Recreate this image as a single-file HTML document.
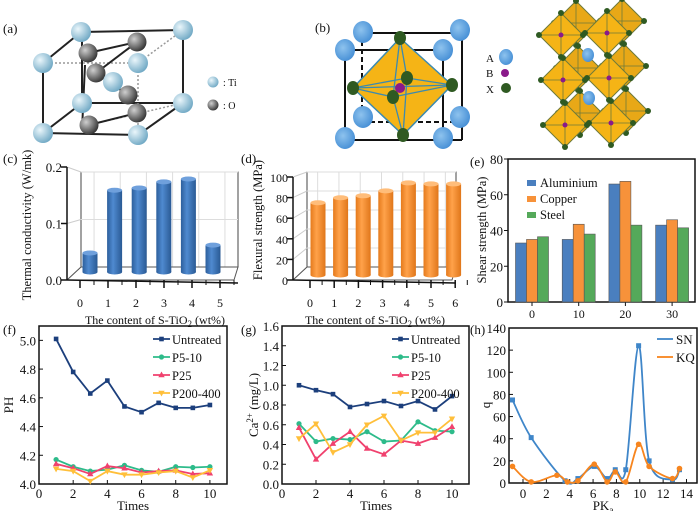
<!DOCTYPE html>
<html><head><meta charset="utf-8">
<style>
html,body{margin:0;padding:0;background:#fff}
svg{display:block;font-family:"Liberation Serif",serif}
</style></head>
<body>
<svg id="fig" width="700" height="511" viewBox="0 0 700 511" xmlns="http://www.w3.org/2000/svg">
<defs>
<radialGradient id="ti" cx="35%" cy="35%" r="70%"><stop offset="0" stop-color="#eaf6fb"/><stop offset="1" stop-color="#6fa8c4"/></radialGradient>
<radialGradient id="ox" cx="35%" cy="35%" r="70%"><stop offset="0" stop-color="#cfcfcf"/><stop offset="1" stop-color="#333"/></radialGradient>
<radialGradient id="ba" cx="40%" cy="40%" r="70%"><stop offset="0" stop-color="#8ec3ee"/><stop offset="1" stop-color="#3f8ad3"/></radialGradient>
<linearGradient id="cylB" x1="0" x2="1"><stop offset="0" stop-color="#2d5f9c"/><stop offset="0.4" stop-color="#4f8ad0"/><stop offset="1" stop-color="#2a5a94"/></linearGradient>
<linearGradient id="cylO" x1="0" x2="1"><stop offset="0" stop-color="#e57a1c"/><stop offset="0.4" stop-color="#ffa24a"/><stop offset="1" stop-color="#e0761a"/></linearGradient>
</defs>
<g id="pa"></g>
<g id="pb"></g>
<g id="pc"></g>
<g id="pd"></g>
<g id="pe"></g>
<g id="pf"></g>
<g id="pg"></g>
<g id="ph"></g>
</svg>
<script>
// ---- chart data ----
const cCats = [0,1,2,3,4,5];
const cVals = [0.034,0.146,0.150,0.161,0.166,0.048];
const cTicks = [0.0,0.1,0.2];
const dCats = [0,1,2,3,4,5,6];
const dVals = [73,78,80,85,93,92,92];
const dTicks = [0,20,40,60,80,100];
const eCats = [0,10,20,30];
const eSeriesNames = ["Aluminium","Copper","Steel"];
const eAlu = [33,35,66,43];
const eCop = [35,43.5,67.5,46];
const eSte = [36.5,38,43,41.5];
const eTicks = [0,20,40,60,80];
const fTimes = [1,2,3,4,5,6,7,8,9,10];
const fUntreated = [5.01,4.78,4.63,4.72,4.54,4.50,4.565,4.53,4.53,4.55];
const fP510 = [4.17,4.12,4.09,4.10,4.13,4.095,4.085,4.12,4.115,4.12];
const fP25 = [4.14,4.11,4.07,4.125,4.11,4.08,4.09,4.095,4.07,4.075];
const fP200 = [4.105,4.09,4.02,4.09,4.065,4.065,4.08,4.09,4.045,4.095];
const fYTicks = [4.0,4.2,4.4,4.6,4.8,5.0];
const gUntreated = [1.0,0.95,0.91,0.78,0.81,0.84,0.79,0.84,0.755,0.89];
const gP510 = [0.61,0.43,0.46,0.45,0.53,0.43,0.44,0.63,0.54,0.53];
const gP25 = [0.57,0.25,0.41,0.53,0.36,0.30,0.44,0.41,0.47,0.58];
const gP200 = [0.46,0.61,0.32,0.40,0.60,0.69,0.44,0.52,0.52,0.66];
const gYTicks = [0.0,0.2,0.4,0.6,0.8,1.0,1.2,1.4,1.6];
const xTicks10 = [0,2,4,6,8,10];
const hSNx = [-0.9,0.7,3.6,4.7,6.1,7.2,7.9,8.8,9.9,10.8,12.8,13.4];
const hSNy = [75,41,2,4,15,4,12,12,124,20,3,12];
const hKQx = [-0.9,0.7,2.9,3.8,4.7,6.1,7.2,7.9,8.8,9.9,10.8,12.8,13.4];
const hKQy = [15,1,7,1,2,17,1,10,1,35,15,4,13];
const hXTicks = [0,2,4,6,8,10,12,14];
const hYTicks = [0,20,40,60,80,100,120,140];

const NS="http://www.w3.org/2000/svg";
function mk(parent,tag,attrs,text){const e=document.createElementNS(NS,tag);for(const k in attrs)e.setAttribute(k,attrs[k]);if(text!==undefined)e.textContent=text;parent.appendChild(e);return e;}
function txt(p,x,y,s,size,anchor,name){const t=mk(p,'text',{x:x,y:y,'font-size':size||12,'text-anchor':anchor||'middle',fill:'#111'},s);

return t;}

// ---- panel a ----
(function(){
const g=document.getElementById('pa');
txt(g,3,33,'(a)',13,'start','panel-a-label');
const L=(a,b,c,d,dash)=>mk(g,'line',{x1:a,y1:b,x2:c,y2:d,stroke:dash?'#999':'#222','stroke-width':dash?1.5:2,'stroke-dasharray':dash?'2 2':''});
L(81,32,183,30);L(43,63,81,32);L(183,30,183,103);L(43,63,43,133);L(43,133,138,135);L(138,135,183,103);L(82,32,82,103);L(82,103,183,103);L(43,133,82,103);
L(43,63,138,63,1);L(138,63,183,30,1);L(138,63,138,135,1);L(89,125,183,103,1);
L(88,53,137,42);L(96,73,137,42);L(96,73,128,95);L(89,125,137,113);L(85,65,82,130);
const ox=[[137,42],[88,53],[96,73],[128,95],[137,113],[89,125]];
ox.forEach(p=>mk(g,'circle',{cx:p[0],cy:p[1],r:9.5,fill:'url(#ox)'}));
const ti=[[81,32],[183,30],[43,63],[138,63],[113,82],[82,103],[183,103],[43,133],[138,135]];
ti.forEach(p=>mk(g,'circle',{cx:p[0],cy:p[1],r:10,fill:'url(#ti)'}));
mk(g,'circle',{cx:213,cy:82,r:5.5,fill:'url(#ti)'});mk(g,'circle',{cx:213,cy:105,r:5.5,fill:'url(#ox)'});
txt(g,223,86,': Ti',10,'start','legend-ti');txt(g,223,109,': O',10,'start','legend-o');
})();

// ---- panel b ----
(function(){
const g=document.getElementById('pb');
txt(g,315,32,'(b)',13,'start','panel-b-label');
const L=(a,b,c,d,dash)=>mk(g,'line',{x1:a,y1:b,x2:c,y2:d,stroke:'#111','stroke-width':2,'stroke-dasharray':dash?'5 3':''});
L(363,33,462,33);L(462,33,462,140);L(345,140,462,140);L(345,50,345,140);L(345,50,443,50);L(443,50,443,140);
L(362,33,362,122,1);L(362,122,455,122,1);
mk(g,'polygon',{points:'400,38 452,85 403,135 353,88',fill:'#f5b416',stroke:'#3c8ab0','stroke-width':1.5});
[[353,88,452,85],[393,97,452,85],[393,97,353,88],[407,78,400,38],[407,78,403,135],[393,97,400,38],[393,97,403,135],[407,78,353,88],[407,78,452,85]].forEach(l=>mk(g,'line',{x1:l[0],y1:l[1],x2:l[2],y2:l[3],stroke:'#3c8ab0','stroke-width':1.3}));
[[400,38],[452,85],[403,135],[353,88],[393,97],[407,78]].forEach(p=>mk(g,'ellipse',{cx:p[0],cy:p[1],rx:6,ry:7,fill:'#2f5a22'}));
mk(g,'circle',{cx:400,cy:88,r:5,fill:'#8a1a8a'});
[[363,32],[460,30],[345,50],[443,50],[363,117],[460,117],[345,138],[443,138]].forEach(p=>mk(g,'ellipse',{cx:p[0],cy:p[1],rx:10,ry:11,fill:'url(#ba)'}));
txt(g,486,62,'A',11,'start','legend-a');txt(g,486,77,'B',11,'start','legend-b');txt(g,486,93,'X',11,'start','legend-x');
mk(g,'ellipse',{cx:506,cy:57,rx:7,ry:8,fill:'url(#ba)'});mk(g,'circle',{cx:505,cy:73,r:4,fill:'#8a1a8a'});mk(g,'circle',{cx:506,cy:88,r:5,fill:'#2f5a22'});
const cen=[[576,23],[622,21],[578,68],[624,66],[580,113],[626,111],[561,35],[607,33],[563,80],[609,78],[565,125],[611,123]];
cen.forEach((c,i)=>{const s=22,x=c[0],y=c[1];
mk(g,'polygon',{points:`${x},${y-s} ${x+s},${y} ${x},${y+s} ${x-s},${y}`,fill:i<6?'#e8a817':'#f5b416',stroke:'#6e7a3a','stroke-width':1});
mk(g,'line',{x1:x-s,y1:y,x2:x+s,y2:y,stroke:'#6e7a3a','stroke-width':0.8});mk(g,'line',{x1:x,y1:y-s,x2:x,y2:y+s,stroke:'#6e7a3a','stroke-width':0.8});
[[x,y-s],[x+s,y],[x,y+s],[x-s,y]].forEach(p=>mk(g,'circle',{cx:p[0],cy:p[1],r:3,fill:'#2f5a22'}));
if(i>=6)mk(g,'circle',{cx:x,cy:y,r:2.5,fill:'#8a1a8a'});});
mk(g,'ellipse',{cx:588,cy:55,rx:6,ry:7,fill:'url(#ba)'});mk(g,'ellipse',{cx:589,cy:98,rx:6,ry:7,fill:'url(#ba)'});
})();

// ---- 3D bar helper ----
function bar3d(p,o,cats,vals,ticks,grad,topCol,name){
const {ax,y0,y1,vmax,wallL,wallR,wallT,wallB,base,bx0,bdx,bh,tx0,tdx}=o;
const ys=v=>y0-(v/vmax)*(y0-y1);
const bs=v=>base-v*bh;
mk(p,'rect',{x:wallL,y:wallT,width:wallR-wallL,height:wallB-wallT,fill:'#fff',stroke:'#444','stroke-width':1});
ticks.forEach(t=>{const yy=wallB-(t/vmax)*(wallB-wallT);mk(p,'line',{x1:ax,y1:ys(t),x2:wallL,y2:yy,stroke:'#ccc'});mk(p,'line',{x1:wallL,y1:yy,x2:wallR,y2:yy,stroke:'#ddd'});});
cats.forEach((c,i)=>{const xx=wallL+(i+0.5)*(wallR-wallL)/cats.length;mk(p,'line',{x1:xx,y1:wallT,x2:xx,y2:wallB,stroke:'#ddd'});});
mk(p,'polygon',{points:`${ax},${y0} ${wallR-4},${y0} ${wallR},${wallB} ${wallL},${wallB}`,fill:'none',stroke:'#555'});
mk(p,'line',{x1:ax,y1:y0,x2:ax,y2:y1,stroke:'#111','stroke-width':1.5});
ticks.forEach(t=>{mk(p,'line',{x1:ax-6,y1:ys(t),x2:ax,y2:ys(t),stroke:'#111','stroke-width':1.5});});
mk(p,'line',{x1:ax,y1:y0,x2:wallR,y2:y0+3,stroke:'#111','stroke-width':1.5});
cats.forEach((c,i)=>{const tx=tx0+i*tdx;mk(p,'line',{x1:tx,y1:y0,x2:tx,y2:y0+8,stroke:'#111','stroke-width':1.5});mk(p,'line',{x1:tx+tdx/2,y1:y0,x2:tx+tdx/2,y2:y0+5,stroke:'#111'});});
vals.forEach((v,i)=>{const cx=bx0+i*bdx,w=15,top=bs(v);
const r=mk(p,'rect',{x:cx-w/2,y:top,width:w,height:base-top,fill:grad});


mk(p,'ellipse',{cx:cx,cy:base,rx:w/2,ry:2.5,fill:grad});
mk(p,'ellipse',{cx:cx,cy:top,rx:w/2,ry:2.5,fill:topCol});});
return ys;}

// ---- panel c ----
(function(){const p=document.getElementById('pc');
const o={ax:67,y0:280,y1:167,vmax:0.2,wallL:81,wallR:238,wallT:172,wallB:267,base:272,bx0:90,bdx:24.6,bh:(272-160)/0.2,tx0:80,tdx:28};
const ys=bar3d(p,o,cCats,cVals,cTicks,'url(#cylB)','#6fa0dc','thermal');
cTicks.forEach(t=>txt(p,62,ys(t)+5,t.toFixed(1),13,'end','y-tick'));
cCats.forEach((c,i)=>txt(p,o.tx0+i*o.tdx,307,String(c),12,'middle','x-tick'));
txt(p,3,163,'(c)',13,'start','panel-c-label');
const yl=txt(p,0,0,'Thermal conductivity (W/mk)',12.5,'middle','y-axis-title');yl.setAttribute('transform','translate(31,225) rotate(-90)');
const xl=txt(p,155,324,'',12,'middle','x-axis-title');xl.innerHTML='The content of S-TiO<tspan dy="3" font-size="9">2</tspan><tspan dy="-3"> (wt%)</tspan>';
})();

// ---- panel d ----
(function(){const p=document.getElementById('pd');
const o={ax:293,y0:280,y1:177,vmax:100,wallL:307,wallR:456,wallT:172,wallB:267,base:275,bx0:318,bdx:22.6,bh:0.99,tx0:310,tdx:24.2};
const ys=bar3d(p,o,dCats,dVals,dTicks,'url(#cylO)','#ffbd7a','flexural');
dTicks.forEach(t=>txt(p,288,ys(t)+5,String(t),12,'end','y-tick'));
dCats.forEach((c,i)=>txt(p,o.tx0+i*o.tdx,307,String(c),12,'middle','x-tick'));
txt(p,241,163,'(d)',13,'start','panel-d-label');
const yl=txt(p,0,0,'Flexural strength (MPa)',12.5,'middle','y-axis-title');yl.setAttribute('transform','translate(262,220) rotate(-90)');
const xl=txt(p,375,324,'',12,'middle','x-axis-title');xl.innerHTML='The content of S-TiO<tspan dy="3" font-size="9">2</tspan><tspan dy="-3"> (wt%)</tspan>';
})();

// ---- panel e ----
(function(){const p=document.getElementById('pe');
const L=508,R=695,T=159,B=302;
const ys=v=>B-v/80*(B-T);
const xs=i=>532+i*46.7;
mk(p,'rect',{x:L,y:T,width:R-L,height:B-T,fill:'#fff',stroke:'#111','stroke-width':1.5});
eTicks.forEach(t=>{mk(p,'line',{x1:L-4,y1:ys(t),x2:L,y2:ys(t),stroke:'#111'});txt(p,L-5,ys(t)+5,String(t),13,'end','y-tick');});
eCats.forEach((c,i)=>{mk(p,'line',{x1:xs(i),y1:B,x2:xs(i),y2:B+4,stroke:'#111'});txt(p,xs(i),318,String(c),12,'middle','x-tick');});
const cols=['#4a7fbf','#f7923a','#55a95a'];
[eAlu,eCop,eSte].forEach((ser,k)=>ser.forEach((v,i)=>{const r=mk(p,'rect',{x:xs(i)-16.5+k*11,y:ys(v),width:11,height:B-ys(v),fill:cols[k],stroke:'#555','stroke-width':0.6});

}));
eSeriesNames.forEach((n,k)=>{const y=185+k*16;mk(p,'rect',{x:527,y:y-5,width:9,height:6,fill:cols[k]});txt(p,540,y+2,n,12.5,'start','legend-entry');});
txt(p,470,166,'(e)',13,'start','panel-e-label');
const yl=txt(p,0,0,'Shear strength (MPa)',12.5,'middle','y-axis-title');yl.setAttribute('transform','translate(486,230) rotate(-90)');
})();

// ---- line helper ----
function lineChart(p,o){
const {L,R,T,B,xmin,xmax,ymin,ymax}=o;
const xs=v=>L+(v-xmin)/(xmax-xmin)*(R-L);
const ys=v=>B-(v-ymin)/(ymax-ymin)*(B-T);
mk(p,'rect',{x:L,y:T,width:R-L,height:B-T,fill:'none',stroke:'#111','stroke-width':1.5});
return {xs,ys};}
function marker(p,type,x,y,c){
if(type==='s')mk(p,'rect',{x:x-2.3,y:y-2.3,width:4.6,height:4.6,fill:c});
else if(type==='c')mk(p,'circle',{cx:x,cy:y,r:2.6,fill:c});
else if(type==='t')mk(p,'polygon',{points:`${x},${y-3.5} ${x+3.2},${y+2.3} ${x-3.2},${y+2.3}`,fill:c});
else mk(p,'polygon',{points:`${x},${y+3.5} ${x+3.2},${y-2.3} ${x-3.2},${y-2.3}`,fill:c});}
const fCols=['#1c3f7c','#2dbb8a','#f0416e','#ffbf3a'];
const fTypes=['s','c','t','v'];
const fNames=['Untreated','P5-10','P25','P200-400'];
function legend(p,x,y0){fNames.forEach((n,k)=>{const y=y0+k*18;mk(p,'line',{x1:x,y1:y,x2:x+17,y2:y,stroke:fCols[k],'stroke-width':1.8});marker(p,fTypes[k],x+8.5,y,fCols[k]);txt(p,x+19,y+5,n,12.5,'start','legend-entry');});}
function series(p,sc,xv,yv,k,name){
const pts=xv.map((x,i)=>sc.xs(x)+','+sc.ys(yv[i])).join(' ');
const pl=mk(p,'polyline',{points:pts,fill:'none',stroke:fCols[k],'stroke-width':1.8});


xv.forEach((x,i)=>marker(p,fTypes[k],sc.xs(x),sc.ys(yv[i]),fCols[k]));}

// ---- panel f ----
(function(){const p=document.getElementById('pf');
const o={L:39,R:227,T:326,B:484,xmin:0,xmax:11,ymin:4.0,ymax:5.1};
const sc=lineChart(p,o);
fYTicks.forEach(t=>{mk(p,'line',{x1:o.L,y1:sc.ys(t),x2:o.L+4,y2:sc.ys(t),stroke:'#111'});txt(p,o.L-3,sc.ys(t)+5,t.toFixed(1),13,'end','y-tick');});
xTicks10.forEach(t=>{mk(p,'line',{x1:sc.xs(t),y1:o.B,x2:sc.xs(t),y2:o.B-4,stroke:'#111'});txt(p,sc.xs(t),498,String(t),13,'middle','x-tick');});
[fUntreated,fP510,fP25,fP200].forEach((s,k)=>series(p,sc,fTimes,s,k,'line-'+fNames[k].toLowerCase()));
legend(p,153,339);
txt(p,3,334,'(f)',13,'start','panel-f-label');
const yl=txt(p,0,0,'PH',13,'middle','y-axis-title');yl.setAttribute('transform','translate(13,405) rotate(-90)');
txt(p,133,510,'Times',13,'middle','x-axis-title');
})();

// ---- panel g ----
(function(){const p=document.getElementById('pg');
const o={L:282,R:469,T:326,B:484,xmin:0,xmax:11,ymin:0,ymax:1.6};
const sc=lineChart(p,o);
gYTicks.forEach(t=>{mk(p,'line',{x1:o.L,y1:sc.ys(t),x2:o.L+4,y2:sc.ys(t),stroke:'#111'});txt(p,o.L-3,sc.ys(t)+5,t.toFixed(1),13,'end','y-tick');});
xTicks10.forEach(t=>{mk(p,'line',{x1:sc.xs(t),y1:o.B,x2:sc.xs(t),y2:o.B-4,stroke:'#111'});txt(p,sc.xs(t),498,String(t),13,'middle','x-tick');});
[gUntreated,gP510,gP25,gP200].forEach((s,k)=>series(p,sc,fTimes,s,k,'line-'+fNames[k].toLowerCase()));
legend(p,392,339);
txt(p,241,334,'(g)',13,'start','panel-g-label');
const yl=txt(p,0,0,'',13,'middle','y-axis-title');yl.innerHTML='Ca<tspan dy="-5" font-size="9">2+</tspan><tspan dy="5"> (mg/L)</tspan>';yl.setAttribute('transform','translate(258,405) rotate(-90)');
txt(p,376,510,'Times',13,'middle','x-axis-title');
})();

// ---- panel h ----
function smooth(pts){let d='M'+pts[0][0]+','+pts[0][1];
for(let i=0;i<pts.length-1;i++){const p0=pts[i-1]||pts[i],p1=pts[i],p2=pts[i+1],p3=pts[i+2]||p2;
const c1=[p1[0]+(p2[0]-p0[0])/6,p1[1]+(p2[1]-p0[1])/6],c2=[p2[0]-(p3[0]-p1[0])/6,p2[1]-(p3[1]-p1[1])/6];
d+=` C${c1[0]},${c1[1]} ${c2[0]},${c2[1]} ${p2[0]},${p2[1]}`;}return d;}
(function(){const p=document.getElementById('ph');
const o={L:509,R:697,T:328,B:483,xmin:-1.2,xmax:14.9,ymin:0,ymax:140};
const sc=lineChart(p,o);
hYTicks.forEach(t=>{mk(p,'line',{x1:o.L,y1:sc.ys(t),x2:o.L+4,y2:sc.ys(t),stroke:'#111'});txt(p,o.L-3,sc.ys(t)+5,String(t),13,'end','y-tick');});
hXTicks.forEach(t=>{mk(p,'line',{x1:sc.xs(t),y1:o.B,x2:sc.xs(t),y2:o.B-4,stroke:'#111'});txt(p,sc.xs(t),498,String(t),13,'middle','x-tick');});
const cols=['#3f86c9','#f7851e'];
[[hSNx,hSNy,'sn'],[hKQx,hKQy,'kq']].forEach((s,k)=>{
const pts=s[0].map((x,i)=>[sc.xs(x),sc.ys(s[1][i])]);
const pa=mk(p,'path',{d:smooth(pts),fill:'none',stroke:cols[k],'stroke-width':1.8});


pts.forEach(q=>k?mk(p,'circle',{cx:q[0],cy:q[1],r:2.8,fill:cols[k]}):mk(p,'rect',{x:q[0]-2.5,y:q[1]-2.5,width:5,height:5,fill:cols[k]}));});
['SN','KQ'].forEach((n,k)=>{const y=339+k*18;mk(p,'line',{x1:657,y1:y,x2:673,y2:y,stroke:cols[k],'stroke-width':1.8});txt(p,676,y+5,n,13,'start','legend-entry');});
txt(p,470,334,'(h)',13,'start','panel-h-label');
const yl=txt(p,0,0,'q',13,'middle','y-axis-title');yl.setAttribute('transform','translate(490,405) rotate(-90)');
const xl=txt(p,603,510,'',13,'middle','x-axis-title');xl.innerHTML='PK<tspan dy="3" font-size="9">a</tspan>';
})();
</script>
</body></html>
